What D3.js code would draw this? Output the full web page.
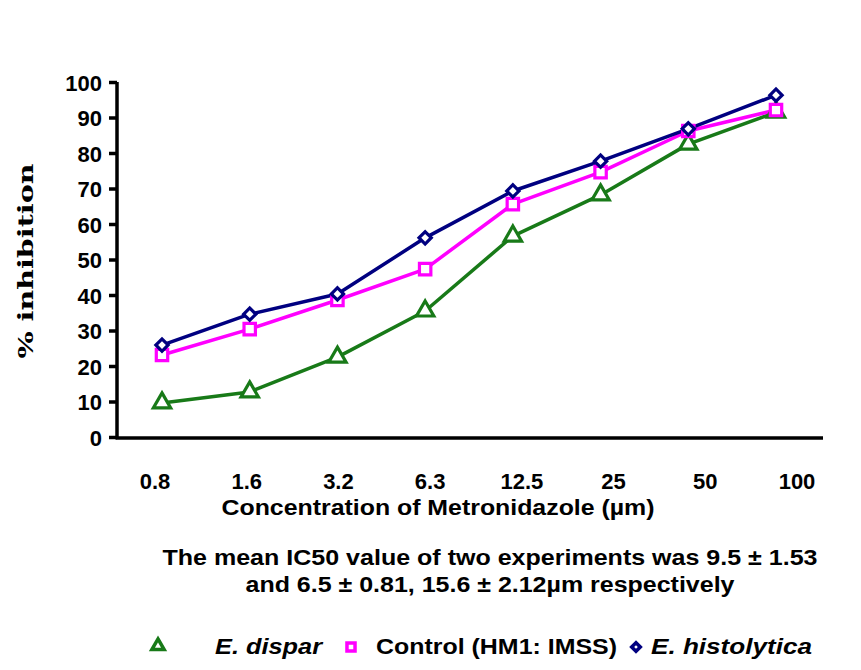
<!DOCTYPE html>
<html><head><meta charset="utf-8">
<script src="https://cdn.jsdelivr.net/npm/d3@7"></script>
<style>
body{margin:0;background:#fff;}
svg text{font-family:"Liberation Sans",Arial,sans-serif;}
</style></head>
<body><svg id="c" width="861" height="670"></svg>
<script>
const categories = ["0.8","1.6","3.2","6.3","12.5","25","50","100"];
const dispar = [9.6, 12.7, 22.5, 35.5, 56.6, 68.2, 82.5, 91.5];
const control = [23.1, 30.4, 38.6, 47.3, 65.6, 74.6, 86.2, 92.1];
const histolytica = [25.9, 34.6, 40.3, 56.1, 69.3, 77.7, 86.8, 96.3];
const yTicks = [0,10,20,30,40,50,60,70,80,90,100];
const legendLabels = ["E. dispar","Control (HM1: IMSS)","E. histolytica"];
const captionLines = ["The mean IC50 value of two experiments was 9.5 \u00b1 1.53","and 6.5 \u00b1 0.81, 15.6 \u00b1 2.12\u00b5m respectively"];

const svg = d3.select("#c");
const y = d3.scaleLinear().domain([0,100]).range([437,82]);
const xm = d3.scalePoint().domain(categories).range([162,776]);
const xl = d3.scalePoint().domain(categories).range([155,797]);

const series = [
  {name:legendLabels[0], vals:dispar, color:"#187a18", sym:d3.symbolTriangle, size:130, rot:0},
  {name:legendLabels[1], vals:control, color:"#ff00ff", sym:d3.symbolSquare, size:130, rot:0},
  {name:legendLabels[2], vals:histolytica, color:"#000080", sym:d3.symbolSquare, size:75, rot:45}
];

// axes
const ya = svg.append("g").attr("transform","translate(117,0)")
  .call(d3.axisLeft(y).tickValues(yTicks).tickSize(8).tickPadding(6).tickSizeOuter(0));
ya.select(".domain").attr("stroke","#000").attr("stroke-width",3.5).attr("d","M0,82V439");
ya.selectAll(".tick line").attr("stroke","#000").attr("stroke-width",3.5);
ya.selectAll(".tick text").style("font-size","22px").style("font-weight","bold").attr("fill","#000")
  .style("font-family","Liberation Sans, Arial, sans-serif")
  .attr("x",-15).attr("dy","0.37em");

svg.append("line").attr("x1",115.5).attr("x2",823).attr("y1",y(0)+1).attr("y2",y(0)+1)
  .attr("stroke","#000").attr("stroke-width",3.5);

svg.append("g").selectAll("text").data(categories).join("text")
  .attr("x",d=>xl(d)).attr("y",489).attr("text-anchor","middle")
  .style("font-size","22px").style("font-weight","bold").text(d=>d);

svg.append("text").attr("x",438).attr("y",515).attr("text-anchor","middle")
  .style("font-size","22px").style("font-weight","bold")
  .attr("textLength",433).attr("lengthAdjust","spacingAndGlyphs")
  .text("Concentration of Metronidazole (\u00b5m)");

svg.append("text").attr("transform","translate(33,261) rotate(-90)")
  .attr("text-anchor","middle").style("font-size","21px").style("font-weight","bold")
  .style("font-family","DejaVu Serif, serif")
  .attr("textLength",195).attr("lengthAdjust","spacingAndGlyphs")
  .text("% inhibition");

// lines and markers
const line = d3.line().x((d,i)=>xm(categories[i])).y(d=>y(d));
series.forEach(s=>{
  svg.append("path").datum(s.vals).attr("d",line).attr("fill","none")
    .attr("stroke",s.color).attr("stroke-width",3.5).attr("stroke-linejoin","round");
});
series.forEach(s=>{
  svg.append("g").selectAll("path").data(s.vals).join("path")
    .attr("transform",(d,i)=>`translate(${xm(categories[i])},${y(d)}) rotate(${s.rot})`)
    .attr("d",d3.symbol().type(s.sym).size(s.size))
    .attr("fill","#fff").attr("stroke",s.color).attr("stroke-width",3.2);
});

// caption
const capW = [655, 489];
svg.selectAll(".cap").data(captionLines).join("text").attr("class","cap")
  .attr("x",490).attr("y",(d,i)=>565+i*27).attr("text-anchor","middle")
  .style("font-size","22px").style("font-weight","bold")
  .attr("textLength",(d,i)=>capW[i]).attr("lengthAdjust","spacingAndGlyphs")
  .text(d=>d);

// legend
const legMarkX = [158, 351, 636];
const legTextX = [215, 376, 651];
const legTextW = [107, 241, 161];
const lg = svg.append("g");
series.forEach((s,i)=>{
  lg.append("path").attr("transform",`translate(${legMarkX[i]},${i===0?646:647}) rotate(${s.rot})`)
    .attr("d",d3.symbol().type(s.sym).size(s.size*0.5))
    .attr("fill","#fff").attr("stroke",s.color).attr("stroke-width",3.5);
  lg.append("text").attr("x",legTextX[i]).attr("y",654)
    .style("font-size","22px").style("font-weight","bold")
    .style("font-style", i===1 ? "normal" : "italic")
    .attr("textLength",legTextW[i]).attr("lengthAdjust","spacingAndGlyphs")
    .text(s.name);
});
</script></body></html>
